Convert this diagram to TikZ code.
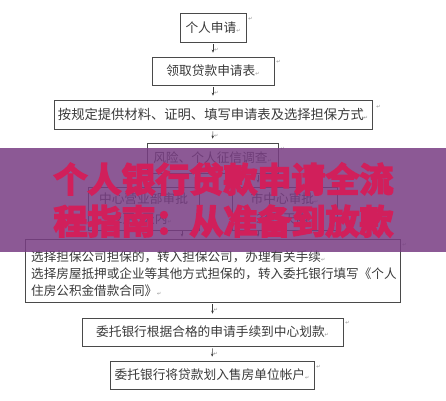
\documentclass[tikz,border=0pt]{standalone}
\usepackage{fontspec}
\newfontfamily\cjk{Noto Sans CJK SC}
\newfontfamily\cjkheavy[UprightFont=* Bold]{Noto Sans CJK SC}
\newfontfamily\dejavu{DejaVu Sans}
\usetikzlibrary{arrows.meta,calc}
\definecolor{ink}{HTML}{3A3A3A}
\definecolor{frame}{HTML}{4A4A4A}
\definecolor{retgray}{HTML}{8A8A8A}
\definecolor{bandpurple}{RGB}{120,61,131}
\definecolor{titlered}{HTML}{D11F5B}
\newcommand{\rt}{{\dejavu\fontsize{5}{5}\selectfont\textcolor{retgray}{↵}}}
\newcommand{\heavyon}{\special{pdf:code 2 Tr 1.6 w 0.82 0.12 0.357 RG}}
\newcommand{\heavyoff}{\special{pdf:code 0 Tr}}
\begin{document}
\begin{tikzpicture}[x=1pt,y=-1pt,
  box/.style={draw=frame, line width=0.7pt, inner sep=0pt, text=ink,
    font=\cjk\fontsize{12.7}{20}\selectfont, align=center},
  boxtext/.style={inner sep=0pt, text=ink, font=\cjk\fontsize{12.6}{17}\selectfont, align=left},
  arr/.style={draw=ink, line width=0.6pt, -{Stealth[length=3pt,width=2.6pt]}, shorten <=2pt, shorten >=4pt},
  retlbl/.style={inner sep=0pt},
  band/.style={fill=bandpurple, fill opacity=0.85},
  title/.style={inner sep=0pt, text=titlered, align=center,
    font=\cjkheavy\fontsize{34}{42}\selectfont}]
\useasboundingbox (0,0) rectangle (446,400);
\fill[white] (0,0) rectangle (446,400);

% boxes
\node[box, minimum width=66, minimum height=29] (B1) at (213,27.5) {个人申请\rt};
\node[box, minimum width=122, minimum height=28] (B2) at (213,71) {领取贷款申请表\rt};
\node[box, minimum width=318, minimum height=29, font=\cjk\fontsize{13.3}{17}\selectfont] (B3) at (213,114.5) {按规定提供材料、证明、填写申请表及选择担保方式\rt};
\node[box, minimum width=131, minimum height=30] (B4) at (212.5,158) {风险、个人征信调查\rt};
\node[box, minimum width=111, minimum height=43] (L) at (143.5,208.5) {中心营业部审批\\2至3天内\rt};
\node[box, minimum width=105, minimum height=43] (R) at (284.5,208.5) {市中心审批\rt\\3至5天内\rt};
\node[box, minimum width=375, minimum height=63] (B5) at (212.5,270.5) {};
\node[boxtext, anchor=west] (B5t) at (31,274) {选择担保公司担保的，转入担保公司，办理有关手续\rt\\选择房屋抵押或企业等其他方式担保的，转入委托银行填写《个人\\住房公积金借款合同》\rt};
\node[box, minimum width=261, minimum height=28] (B6) at (212.5,332) {委托银行根据合格的申请手续到中心划款\rt};
\node[box, minimum width=204, minimum height=28] (B7) at (212,375) {委托银行将贷款划入售房单位帐户\rt};

% paragraph marks outside boxes
\node[retlbl] (m1) at ([shift={(4,6)}]B1.north east) {\rt};
\node[retlbl] (m2) at ([shift={(4,5)}]B2.north east) {\rt};
\node[retlbl] (m3) at ([shift={(6,7)}]B3.north east) {\rt};
\node[retlbl] (m4) at ([shift={(4,6)}]B4.north east) {\rt};
\node[retlbl] (m5) at ([shift={(4,6)}]B5.north east) {\rt};
\node[retlbl] (m6) at ([shift={(4,5)}]B6.north east) {\rt};
\node[retlbl] (m7) at ([shift={(4,6)}]B7.north east) {\rt};

% connectors
\coordinate (axL) at (182,0);
\coordinate (axR) at (258,0);
\draw[arr] (B1.south) -- node[right=1pt, retlbl]{\rt} (B2.north);
\draw[arr] (B2.south) -- node[right=1pt, retlbl]{\rt} (B3.north);
\draw[arr] (B3.south) -- node[right=1pt, retlbl]{\rt} (B4.north);
\draw[arr] (B4.south -| axL) -- (L.north -| axL);
\draw[arr] (B4.south -| axR) -- (R.north -| axR);
\draw[arr, shorten <=1pt, shorten >=2pt] (L.south -| axL) -- (B5.north -| axL);
\draw[arr, shorten <=1pt, shorten >=2pt] (R.south -| axR) -- (B5.north -| axR);
\draw[arr] (B5.south -| B6.north) -- node[right=1pt, retlbl]{\rt} (B6.north);
\draw[arr] (B6.south) -- node[right=1pt, retlbl]{\rt} (B7.north);

% overlay banner and title
\fill[band] (0,148) rectangle (446,252);
\node[title] (T) at (223.5,200) {\heavyon 个人银行贷款申请全流\heavyoff\\\heavyon 程指南：从准备到放款\heavyoff};
\end{tikzpicture}
\end{document}
